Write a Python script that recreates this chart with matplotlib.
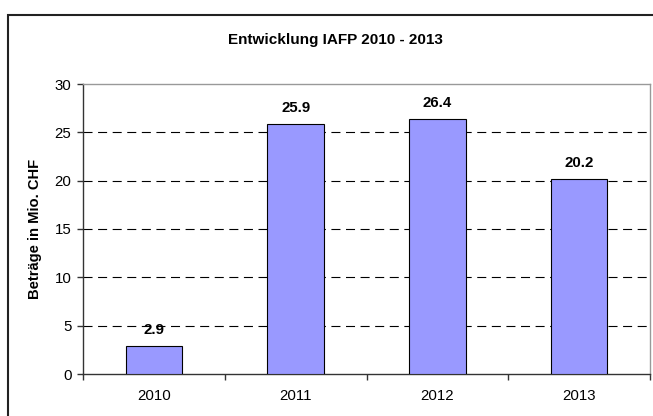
import matplotlib
matplotlib.use('Agg')
import matplotlib.pyplot as plt
from matplotlib.patches import Rectangle

plt.rcParams['font.family'] = ['Liberation Sans', 'DejaVu Sans']
plt.rcParams['lines.scale_dashes'] = False

# data
years = ['2010', '2011', '2012', '2013']
amounts = [2.9, 25.9, 26.4, 20.2]
y_ticks = [0, 5, 10, 15, 20, 25, 30]

fig = plt.figure(figsize=(6.53, 4.16), dpi=100)
ax = fig.add_axes([83 / 653, 42 / 416, 567 / 653, 290 / 416])

# outer chart border
fig.patches.append(Rectangle((8 / 653, -0.05), 1.0, (416 - 15) / 416 + 0.05,
                             transform=fig.transFigure, fill=False,
                             edgecolor='#222222', linewidth=1.5))

pos = [i + 0.5 for i in range(len(years))]
ax.bar(pos, amounts, width=0.4, color='#9999ff', edgecolor='black', linewidth=0.8, zorder=3)

for x, v in zip(pos, amounts):
    ax.annotate(f'{v:.1f}', (x, v), xytext=(0, 11.5), textcoords='offset points',
                ha='center', va='center', fontsize=10.8, fontweight='bold', zorder=4)

ax.set_xlim(0, len(years))
ax.set_ylim(0, 30)
ax.set_yticks(y_ticks)
ax.set_xticks(range(len(years) + 1))
ax.set_xticklabels([])
ax.set_xticks(pos, minor=True)
ax.set_xticklabels(years, minor=True)
ax.tick_params(axis='x', which='minor', length=0, pad=11, labelsize=10.8)
ax.tick_params(axis='x', which='major', length=4.3, width=1, color='#333333')
ax.tick_params(axis='y', length=4.3, width=1, color='#333333', labelsize=10.8, pad=4)

for t in y_ticks[1:-1]:
    ax.axhline(t, color='black', linewidth=0.8, dashes=(6.5, 4.0), zorder=1)

ax.spines['left'].set_color('#333333')
ax.spines['bottom'].set_color('#333333')
ax.spines['top'].set_color('#999999')
ax.spines['right'].set_color('#999999')
for s in ax.spines.values():
    s.set_linewidth(1)

ax.set_ylabel('Beträge in Mio. CHF', fontsize=10.6, fontweight='bold', labelpad=9)
fig.text(335 / 653, 1 - 40 / 416, 'Entwicklung IAFP 2010 - 2013', ha='center', va='center',
         fontsize=11, fontweight='bold')

fig.savefig('out.png', dpi=100)
